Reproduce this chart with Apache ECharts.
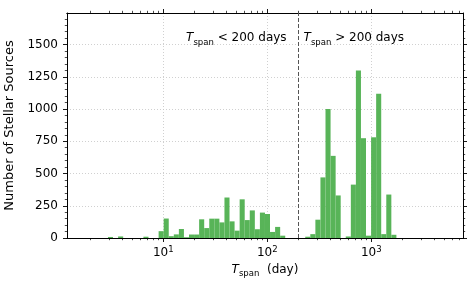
<!DOCTYPE html>
<html><head><meta charset="utf-8">
<script src="https://cdn.jsdelivr.net/npm/echarts@6/dist/echarts.min.js"></script>
<style>html,body{margin:0;padding:0;background:#fff}#c{width:476px;height:290px}</style>
</head><body><div id="c"></div>
<script>
// histogram bins (log10 of days), equal width in log space
const binWidthLog = 0.0487;
const shortStartLog = 0.468;   // T_span < 200 days group
const shortCounts = [8,0,12,0,0,0,0,10,0,0,53,151,14,28,70,6,27,27,145,77,150,150,121,314,129,57,300,139,214,68,197,186,47,86,18];
const longStartLog = 2.365;    // T_span > 200 days group
const longCounts = [10,30,142,470,1000,637,330,0,12,414,1300,774,18,781,1118,30,337,25];

const yTicks = [0,250,500,750,1000,1250,1500];
const xMajorDays = [10,100,1000];
const xMinorDays = [2,3,4,5,6,7,8,9,20,30,40,50,60,70,80,90,200,300,400,500,600,700,800,900,2000,3000,4000,5000,6000,7000];
const splitDays = 200;
const xMinDays = 1.186, xMaxDays = 7620;
const yMax = 1745;

const FONT = 'DejaVu Sans';
const barColor = '#58b458';
const lg = Math.log10;

function bins(start, counts){
  return counts.map((c,i)=>[start+i*binWidthLog, start+(i+1)*binWidthLog, c]).filter(d=>d[2]>0);
}
const barData = bins(shortStartLog, shortCounts).concat(bins(longStartLog, longCounts));

const gridStyle = {show:true, lineStyle:{color:'#c4c4c4', width:0.8, type:[1,2]}};
const axisLineStyle = {show:true, lineStyle:{color:'#000', width:1}};
const xMin = lg(xMinDays), xMax = lg(xMaxDays);
const majorX = xMajorDays.map(lg), minorX = xMinorDays.map(lg);

function xAx(pos, major, extra){
  return Object.assign({
    type:'value', min:xMin, max:xMax, position:pos,
    axisLine:axisLineStyle,
    axisTick:{show:true, length: major?4:2.2, customValues: major?majorX:minorX, lineStyle:{color:'#000', width: major?0.9:0.7}},
    axisLabel:{show:false},
    splitLine:{show:false}
  }, extra||{});
}

const chart = echarts.init(document.getElementById('c'), null, {renderer:'canvas'});
const option = {
  backgroundColor:'#fff',
  animation:false,
  textStyle:{fontFamily:FONT},
  grid:{left:67, right:13, top:13, bottom:52, show:false, containLabel:false, outerBoundsMode:'none'},
  xAxis:[
    xAx('bottom', true, {
      axisLabel:{show:true, customValues:majorX, margin:7, color:'#000', fontFamily:FONT,
        formatter:v=>'{b|10}{s|'+Math.round(v)+'}',
        rich:{b:{fontSize:12, lineHeight:15, fontFamily:FONT, color:'#000'}, s:{fontSize:8.5, lineHeight:9, verticalAlign:'top', fontFamily:FONT, color:'#000'}}},
      splitLine:gridStyle,
      name:'{t|T}{s|span}{d|  (day)}', nameLocation:'middle', nameGap:23,
      nameTextStyle:{color:'#000', fontFamily:FONT, rich:{
        t:{fontSize:12, fontStyle:'italic', lineHeight:17, fontFamily:FONT, color:'#000'},
        s:{fontSize:8.5, lineHeight:9, verticalAlign:'bottom', fontFamily:FONT, color:'#000'},
        d:{fontSize:12, lineHeight:17, fontFamily:FONT, color:'#000'}}}
    }),
    xAx('bottom', false),
    xAx('top', true),
    xAx('top', false)
  ],
  yAxis:[
    {type:'value', min:0, max:yMax, interval:250, position:'left',
     axisLine:axisLineStyle,
     axisTick:{show:true, length:4, customValues:yTicks, lineStyle:{color:'#000', width:0.9}},
     minorTick:{show:true, splitNumber:5, length:2.2, lineStyle:{color:'#000', width:0.7}},
     axisLabel:{customValues:yTicks, fontSize:12, color:'#000', fontFamily:FONT, margin:9, formatter:v=>String(v)},
     splitLine:gridStyle,
     name:'Number of Stellar Sources', nameLocation:'middle', nameGap:41,
     nameTextStyle:{fontSize:13, color:'#000', fontFamily:FONT}},
    {type:'value', min:0, max:yMax, interval:250, position:'right',
     axisLine:axisLineStyle,
     axisTick:{show:true, length:4, customValues:yTicks, lineStyle:{color:'#000', width:0.9}},
     minorTick:{show:true, splitNumber:5, length:2.2, lineStyle:{color:'#000', width:0.7}},
     axisLabel:{show:false}, splitLine:{show:false}}
  ],
  series:[{
    type:'custom', xAxisIndex:0, yAxisIndex:0,
    encode:{x:[0,1], y:2},
    data:barData,
    renderItem:(params, api)=>{
      const p0 = api.coord([api.value(0), 0]);
      const p1 = api.coord([api.value(1), api.value(2)]);
      return {type:'rect', shape:{x:p0[0], y:p1[1], width:p1[0]-p0[0], height:p0[1]-p1[1]}, style:{fill:barColor}};
    },
    markLine:{silent:true, symbol:'none', label:{show:false},
      lineStyle:{color:'#555', width:1, type:[4,2]},
      data:[{xAxis:lg(splitDays)}]}
  }]
};
chart.setOption(option);

const anchor = chart.convertToPixel({gridIndex:0}, [lg(splitDays), 1550]);
const richT = {
  t:{fontSize:12, fontStyle:'italic', lineHeight:18, fontFamily:FONT, fill:'#000'},
  s:{fontSize:8.5, lineHeight:10, verticalAlign:'bottom', fontFamily:FONT, fill:'#000'},
  r:{fontSize:12, lineHeight:18, fontFamily:FONT, fill:'#000'}
};
chart.setOption({graphic:[
  {type:'text', x:anchor[0]-12, y:anchor[1], style:{text:'{t|T}{s|span}{r| < 200 days}', rich:richT, align:'right', verticalAlign:'middle', fill:'#000', font:'12px '+FONT}},
  {type:'text', x:anchor[0]+5, y:anchor[1], style:{text:'{t|T}{s|span}{r| > 200 days}', rich:richT, align:'left', verticalAlign:'middle', fill:'#000', font:'12px '+FONT}}
]});
</script></body></html>
